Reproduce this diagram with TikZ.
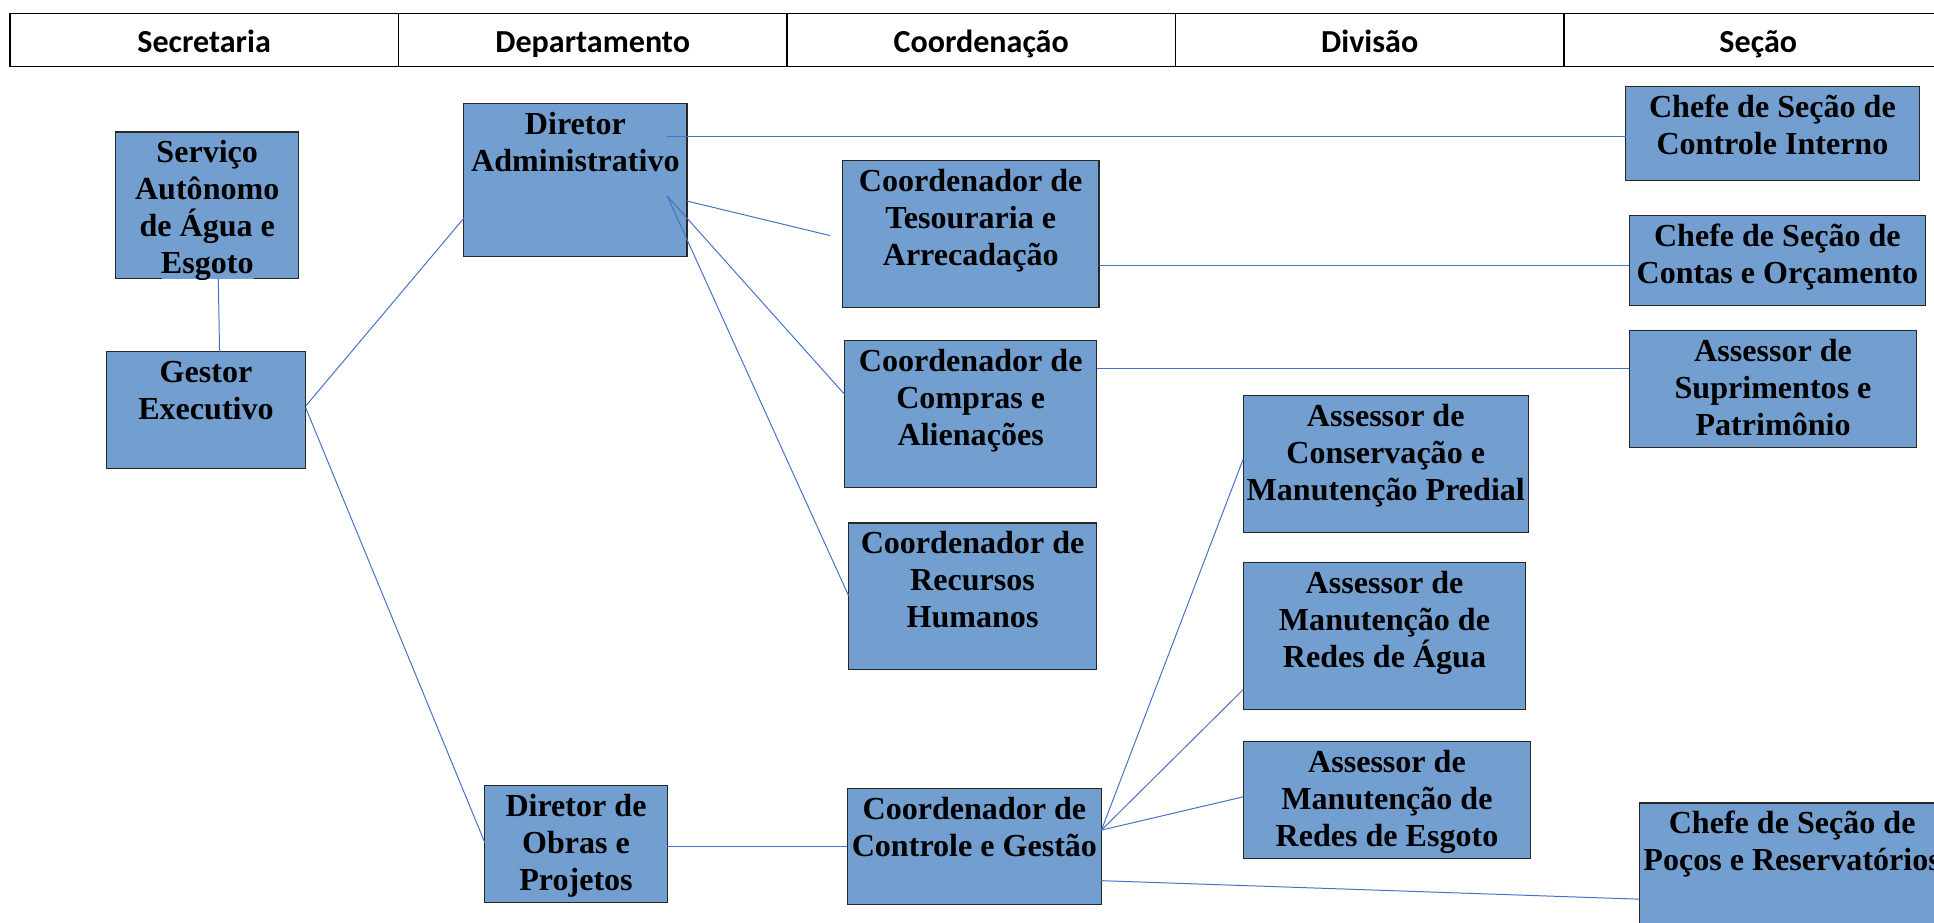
\documentclass[tikz,border=0pt]{standalone}
\usepackage{fontspec}
\newfontfamily\boxfont{Liberation Serif}
\newfontfamily\hdrfont{Carlito}
\usetikzlibrary{calc}
\definecolor{boxblue}{RGB}{114,159,207}
\definecolor{boxline}{RGB}{40,40,40}
\definecolor{conncol}{RGB}{68,114,196}
\newcommand\orgtxt[3]{\parbox[t][#2pt][t]{#1pt}{\centering\rule{0pt}{25pt}#3}}
\begin{document}
\begin{tikzpicture}[x=1pt,y=-1pt,
  orgbox/.style={draw=boxline, fill=boxblue, line width=0.9pt, inner sep=0pt, outer sep=0pt, anchor=north west, font=\boxfont\bfseries\fontsize{26}{30}\selectfont},
  hdr/.style={draw=black, line width=1.2pt, minimum width=315pt, minimum height=43pt, inner sep=0pt, outer sep=0pt, text height=21pt, text depth=1pt, anchor=north west, font=\hdrfont\bfseries\fontsize{26}{30}\selectfont},
  conn/.style={draw=conncol, line width=0.8pt}]
\useasboundingbox (0,0) rectangle (1568,748);
\clip (0,0) rectangle (1568,748);
% header
\node[hdr] (h1) at (8,11) {Secretaria};
\node[hdr] (h2) at (323,11) {Departamento};
\node[hdr] (h3) at (638,11) {Coordenação};
\node[hdr] (h4) at (953,11) {Divisão};
\node[hdr] (h5) at (1268,11) {Seção};
% boxes
\node[orgbox, draw=none] (svc) at (94,107) {\orgtxt{148}{119}{Serviço\\Autônomo\\de Água e\\Esgoto}};
\draw[boxline, line width=0.9pt] ($(svc.south west)+(37,0)$) -- (svc.south west) -- (svc.north west) -- (svc.north east) -- (svc.south east) -- ($(svc.south west)+(112,0)$);
\node[orgbox] (ges) at (86,285) {\orgtxt{162}{95}{Gestor\\Executivo}};
\node[orgbox] (dadm) at (376,84) {\orgtxt{181}{124}{Diretor\\Administrativo}};
\node[orgbox] (ctes) at (683,130) {\orgtxt{208}{119}{Coordenador de\\Tesouraria e\\Arrecadação}};
\node[orgbox] (ccom) at (685,276) {\orgtxt{204}{119}{Coordenador de\\Compras e\\Alienações}};
\node[orgbox] (crh) at (688,424) {\orgtxt{201}{119}{Coordenador de\\Recursos\\Humanos}};
\node[orgbox] (dobr) at (393,637) {\orgtxt{148}{95}{Diretor de\\Obras e\\Projetos}};
\node[orgbox] (ccg) at (687,639) {\orgtxt{206}{94}{Coordenador de\\Controle e Gestão}};
\node[orgbox] (apred) at (1008,321) {\orgtxt{231}{111}{Assessor de\\Conservação e\\Manutenção Predial}};
\node[orgbox] (aagua) at (1008,456) {\orgtxt{229}{119}{Assessor de\\Manutenção de\\Redes de Água}};
\node[orgbox] (aesg) at (1008,601) {\orgtxt{233}{95}{Assessor de\\Manutenção de\\Redes de Esgoto}};
\node[orgbox] (sci) at (1318,70) {\orgtxt{238}{76}{Chefe de Seção de\\Controle Interno}};
\node[orgbox] (sco) at (1321,175) {\orgtxt{240}{73}{Chefe de Seção de\\Contas e Orçamento}};
\node[orgbox] (asup) at (1321,268) {\orgtxt{233}{95}{Assessor de\\Suprimentos e\\Patrimônio}};
\node[orgbox] (spoc) at (1329,651) {\orgtxt{248}{110}{Chefe de Seção de\\Poços e Reservatórios}};
\coordinate (tesend) at (673,191);
% connectors
\draw[conn] ($(svc.south west)+(83,0)$) -- ($(ges.north west)+(92,0)$);
\draw[conn] ($(ges.north east)+(0,44)$) -- ($(dadm.north west)+(0,93)$);
\draw[conn] ($(ges.north east)+(0,46)$) -- ($(dobr.north west)+(0,46)$);
\draw[conn] ($(dadm.north east)+(-16,27)$) -- ($(sci.north west)+(0,41)$);
\draw[conn] ($(dadm.north east)+(0,79)$) -- (tesend);
\draw[conn] ($(dadm.north east)+(-16,75)$) -- ($(ccom.north west)+(0,44)$);
\draw[conn] ($(dadm.north east)+(-16,75)$) -- ($(crh.north west)+(0,59)$);
\draw[conn] ($(ctes.north east)+(0,85)$) -- ($(sco.north west)+(0,40)$);
\draw[conn] ($(ccom.north east)+(0,23)$) -- ($(asup.north west)+(0,31)$);
\draw[conn] ($(dobr.north east)+(0,49)$) -- ($(ccg.north west)+(0,47)$);
\draw[conn] ($(ccg.north east)+(0,34)$) -- ($(apred.north west)+(0,51)$);
\draw[conn] ($(ccg.north east)+(0,34)$) -- ($(aagua.north west)+(0,103)$);
\draw[conn] ($(ccg.north east)+(0,34)$) -- ($(aesg.north west)+(0,45)$);
\draw[conn] ($(ccg.north east)+(0,75)$) -- ($(spoc.north west)+(0,78)$);
\end{tikzpicture}
\end{document}
